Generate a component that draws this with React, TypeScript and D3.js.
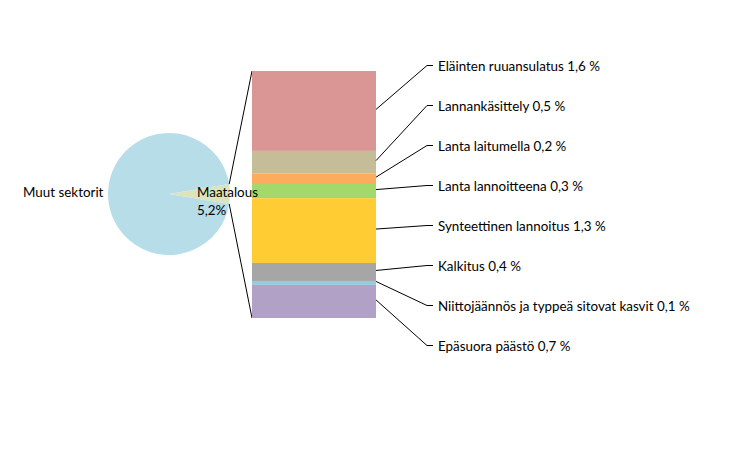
import { useEffect, useRef } from "react";
import * as d3 from "d3";

// pie: share of all sectors
const pieNames = ["Maatalous", "Muut sektorit"];
const pieValues = [5.2, 94.8];
const pieColors = ["#dbe4bb", "#b7dde8"];

// bar: breakdown of agriculture (%)
const barNames = [
  "Eläinten ruuansulatus",
  "Lannankäsittely",
  "Lanta laitumella",
  "Lanta lannoitteena",
  "Synteettinen lannoitus",
  "Kalkitus",
  "Niittojäännös ja typpeä sitovat kasvit",
  "Epäsuora päästö",
];
const barValues = [1.64, 0.46, 0.22, 0.29, 1.33, 0.37, 0.08, 0.68];
const barColors = ["#d99694", "#c4bd97", "#fcac5c", "#a3d86a", "#ffcd33", "#a6a6a6", "#92cddc", "#b2a1c7"];

const W = 730, H = 459;
const cx = 169, cy = 194, r = 61;
const bar = { x0: 252, x1: 376, y0: 71, y1: 318 };
const labelX = 438, labelY0 = 65.5, labelStep = 40;
const font = "Lato, 'Open Sans', sans-serif";
const fontSize = 13.4;

const fmt = (v: number) => d3.format(".1f")(v).replace(".", ",");

export default function App() {
  const ref = useRef<SVGSVGElement>(null);

  useEffect(() => {
    const svg = d3.select(ref.current);
    svg.selectAll("*").remove();

    // pie, with the small slice pointing right
    const half = (pieValues[0] / d3.sum(pieValues)) * Math.PI;
    const pie = d3.pie<number>().sort(null)
      .startAngle(Math.PI / 2 - half)
      .endAngle(Math.PI / 2 - half + 2 * Math.PI);
    const arc = d3.arc<d3.PieArcDatum<number>>().innerRadius(0).outerRadius(r);
    const gPie = svg.append("g").attr("transform", `translate(${cx},${cy})`);
    gPie.selectAll("path").data(pie(pieValues)).enter().append("path")
      .attr("d", arc)
      .attr("fill", (_, i) => pieColors[i]);

    // connector lines from slice edges to bar corners
    const top: [number, number] = [cx + r * Math.cos(half), cy - r * Math.sin(half)];
    const bot: [number, number] = [cx + r * Math.cos(half), cy + r * Math.sin(half)];
    svg.append("path")
      .attr("d", d3.line()([top, [bar.x0, bar.y0]]))
      .attr("stroke", "#000").attr("stroke-width", 1).attr("fill", "none");
    svg.append("path")
      .attr("d", d3.line()([bot, [bar.x0, bar.y1]]))
      .attr("stroke", "#000").attr("stroke-width", 1).attr("fill", "none");

    // stacked bar
    const y = d3.scaleLinear().domain([0, d3.sum(barValues)]).range([bar.y0, bar.y1]);
    const cum = barValues.map((_, i) => d3.sum(barValues.slice(0, i)));
    svg.append("g").selectAll("rect").data(barValues).enter().append("rect")
      .attr("x", bar.x0)
      .attr("width", bar.x1 - bar.x0)
      .attr("y", (_, i) => y(cum[i]))
      .attr("height", (d) => y(d) - y(0))
      .attr("fill", (_, i) => barColors[i]);

    // leader lines and labels
    const gLab = svg.append("g");
    barValues.forEach((v, i) => {
      const ay = y(cum[i] + v / 2) - 1.5;
      const ly = labelY0 + i * labelStep;
      gLab.append("path")
        .attr("d", d3.line()([[bar.x1, ay], [labelX - 11, ly], [labelX - 5, ly]]))
        .attr("stroke", "#000").attr("stroke-width", 1).attr("fill", "none");
      gLab.append("text")
        .attr("x", labelX).attr("y", ly + 2)
        .attr("dominant-baseline", "middle")
        .attr("font-family", font).attr("font-size", fontSize).attr("fill", "#000")
        .text(`${barNames[i]} ${fmt(v)} %`);
    });

    // pie labels
    svg.append("text")
      .attr("x", 23).attr("y", 194)
      .attr("dominant-baseline", "middle")
      .attr("font-family", font).attr("font-size", fontSize)
      .text(pieNames[1]);
    const t = svg.append("text")
      .attr("x", 197).attr("y", 194)
      .attr("dominant-baseline", "middle")
      .attr("font-family", font).attr("font-size", fontSize);
    t.append("tspan").attr("x", 197).text(pieNames[0]);
    t.append("tspan").attr("x", 197).attr("dy", 18).text(fmt(pieValues[0]) + "%");
  }, []);

  return (
    <svg ref={ref} width={W} height={H}
      style={{ position: "absolute", left: 0, top: 0, background: "#fff" }} />
  );
}
